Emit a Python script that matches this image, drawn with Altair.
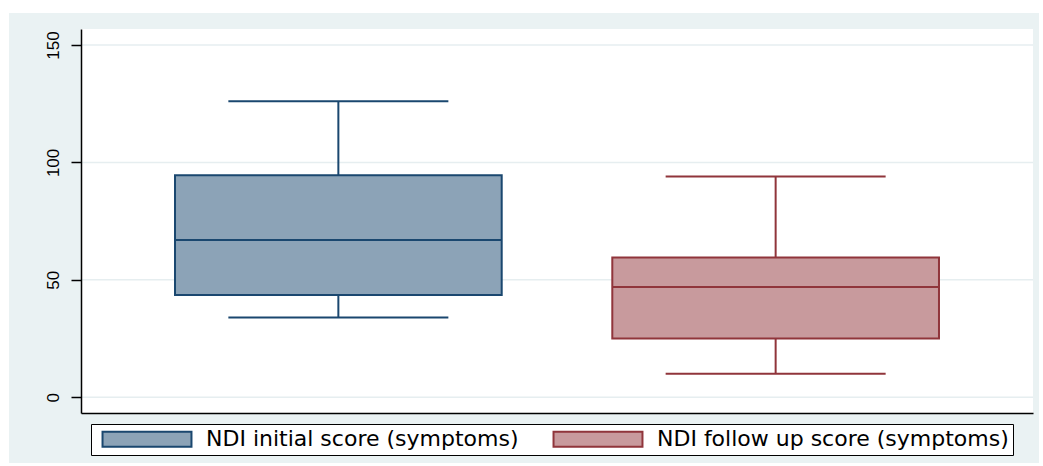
import altair as alt
import pandas as pd

# Box-plot summary values (NDI scores)
series = ["NDI initial score (symptoms)", "NDI follow up score (symptoms)"]
whisker_low = [34, 10]
quartile_1 = [43.5, 25]
median = [67, 47]
quartile_3 = [94.5, 59.5]
whisker_high = [126, 94]
y_ticks = [0, 50, 100, 150]

# Stata s2color palette: navy / maroon with 50% intensity fills
fill_colors = ["#8CA3B7", "#C89A9D"]
line_colors = ["#1A476F", "#90353B"]
graph_bg = "#EAF2F3"
grid_color = "#E6EEF0"

W, H = 952, 384

box = pd.DataFrame({
    "series": series,
    "lo": whisker_low,
    "q1": quartile_1,
    "med": median,
    "q3": quartile_3,
    "hi": whisker_high,
})
grid = pd.DataFrame({"v": y_ticks})
one = pd.DataFrame({"k": [0]})

x_scale = alt.Scale(domain=series, paddingInner=0.2529, paddingOuter=0.215)
x_axis = alt.Axis(labels=False, ticks=False, title=None, grid=False,
                  domainColor="#000000", domainWidth=1.5, zindex=1)
y_scale = alt.Scale(domain=[-6.7, 156.8], nice=False, zero=False)
y_axis = alt.Axis(values=y_ticks, title=None, grid=False, labelAngle=270,
                  labelAlign="center", labelBaseline="bottom", labelPadding=9,
                  labelFont="Liberation Sans", labelFontSize=17, labelColor="#000000",
                  tickSize=10, tickColor="#000000", tickWidth=1.5,
                  domainColor="#000000", domainWidth=1.5, zindex=1)

X = alt.X("series:N", sort=series, scale=x_scale, axis=x_axis)
line_color = alt.Color("series:N", sort=series,
                       scale=alt.Scale(domain=series, range=line_colors), legend=None)

# graph region (light bluish frame) and white plot region
graph_region = alt.Chart(one).mark_rect(color=graph_bg, clip=False).encode(
    x=alt.value(-72), x2=alt.value(958), y=alt.value(-16), y2=alt.value(434))
plot_region = alt.Chart(one).mark_rect(color="#FFFFFF").encode(
    x=alt.value(0), x2=alt.value(W), y=alt.value(0), y2=alt.value(H))

gridlines = alt.Chart(grid).mark_rule(color=grid_color, strokeWidth=1.5).encode(
    y=alt.Y("v:Q", scale=y_scale, axis=y_axis))

base = alt.Chart(box)

upper_whisker = base.mark_rule(strokeWidth=2).encode(
    x=X, y=alt.Y("q3:Q", scale=y_scale, axis=y_axis), y2="hi:Q", color=line_color)
lower_whisker = base.mark_rule(strokeWidth=2).encode(
    x=X, y=alt.Y("lo:Q", scale=y_scale, axis=y_axis), y2="q1:Q", color=line_color)

# wide rectangular key swatches (path spans 89x15 px at size 225)
legend = alt.Legend(
    title=None, orient="none", legendX=10, legendY=395, direction="horizontal",
    fillColor="#FFFFFF", strokeColor="#000000", padding=4,
    symbolType="M-5.93,-1H5.93V1H-5.93Z", symbolSize=225, symbolStrokeWidth=2,
    symbolOffset=41, labelOffset=48,
    labelFont="DejaVu Sans", labelFontSize=22, labelColor="#000000",
    labelLimit=600, columnPadding=27, symbolOpacity=1,
)

boxes = base.mark_bar(strokeWidth=2, opacity=1).encode(
    x=X,
    y=alt.Y("q1:Q", scale=y_scale, axis=y_axis),
    y2="q3:Q",
    fill=alt.Fill("series:N", sort=series,
                  scale=alt.Scale(domain=series, range=fill_colors), legend=legend),
    stroke=alt.Stroke("series:N", sort=series,
                      scale=alt.Scale(domain=series, range=line_colors), legend=legend),
)

medians = base.mark_tick(size=327, thickness=2, opacity=1).encode(
    x=X, y=alt.Y("med:Q", scale=y_scale, axis=y_axis), color=line_color)
caps_hi = base.mark_tick(size=220, thickness=2, opacity=1).encode(
    x=X, y=alt.Y("hi:Q", scale=y_scale, axis=y_axis), color=line_color)
caps_lo = base.mark_tick(size=220, thickness=2, opacity=1).encode(
    x=X, y=alt.Y("lo:Q", scale=y_scale, axis=y_axis), color=line_color)

chart = alt.layer(
    graph_region, plot_region, gridlines,
    upper_whisker, lower_whisker, boxes, medians, caps_hi, caps_lo,
).resolve_scale(color="independent").properties(
    width=W, height=H,
    autosize=alt.AutoSizeParams(type="none"),
    padding={"left": 81, "top": 29, "right": 10, "bottom": 53},
    background="#FFFFFF",
).configure_view(stroke=None)

chart.save("out.html", embed_options={"renderer": "svg", "actions": False})
